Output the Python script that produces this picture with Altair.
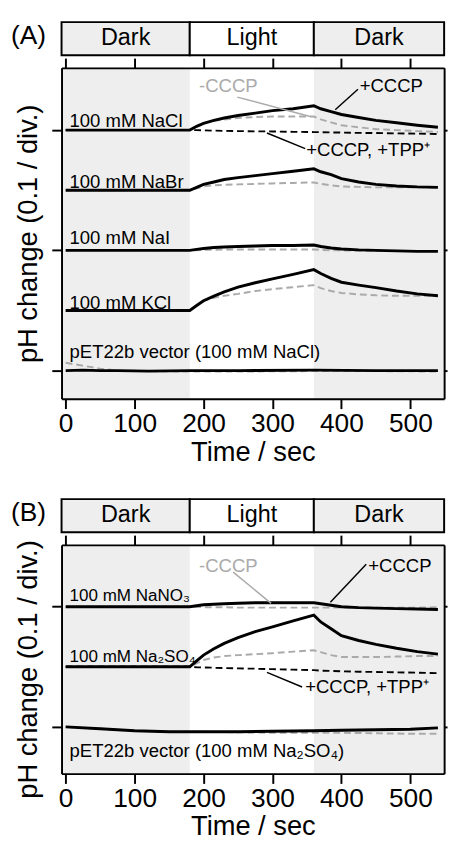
import altair as alt
import pandas as pd

FONT = "Liberation Sans"
GRAY = "#aaaaaa"
SHADE = "#eeeeee"

# ---------------- data (pH change in milli-pH units; 100 = 0.1 = one division) -----------
XDOM = [-6, 549]
T = [0, 180, 190, 200, 215, 230, 250, 275, 300, 330, 360, 370, 385, 400, 425, 450, 480, 510, 540]
TV_A = [0, 25, 50, 75, 120, 180, 250, 360, 450, 540]
TV_B = [0, 50, 100, 150, 200, 250, 300, 360, 400, 450, 500, 540]

# Panel A
a_nacl_solid = [0, 0, 3.2, 5.7, 8.1, 10.1, 12.2, 14.2, 16.2, 17.8, 20.3, 17.8, 15.4, 13.0, 10.5, 8.1, 6.1, 4.1, 2.4]
a_nacl_gray = [0, 0, 3.2, 5.7, 7.7, 8.9, 10.1, 10.9, 11.3, 11.3, 11.3, 8.9, 6.5, 4.1, 2.4, 0.8, 0, -0.8, -1.6]
a_nacl_tpp = [0, 0, 0, -0.2, -0.4, -0.6, -0.8, -1.0, -1.1, -1.4, -1.6, -1.7, -1.9, -2.0, -2.3, -2.4, -2.7, -2.9, -3.2]
a_nabr_solid = [0, 0, 2.4, 4.9, 6.9, 8.9, 10.5, 12.2, 13.8, 15.8, 17.8, 15.4, 13.0, 9.7, 6.9, 4.9, 3.6, 2.8, 2.4]
a_nabr_gray = [0, 0, 1.6, 3.2, 4.1, 4.5, 4.9, 5.3, 5.7, 6.1, 6.5, 5.3, 4.1, 3.2, 2.8, 2.4, 2.4, 2.4, 2.4]
a_nai_solid = [0, 0, 0.8, 1.6, 2.4, 2.8, 3.2, 3.6, 4.1, 4.1, 4.5, 3.2, 2.0, 1.2, 0.4, 0, -0.4, -0.8, -0.8]
a_nai_gray = [0, 0, 0, 0.4, 0.4, 0.8, 0.8, 0.8, 0.8, 0.8, 0.8, 0.4, 0, 0, -0.4, -0.4, -0.4, -0.4, -0.4]
a_kcl_solid = [0, 0, 4.1, 8.1, 12.0, 15.4, 19.4, 23.1, 26.3, 30.0, 34.0, 30.8, 26.7, 23.5, 21.1, 19.0, 16.2, 13.8, 12.2]
a_kcl_gray = [0, 0, 4.1, 8.1, 10.5, 12.2, 13.8, 16.2, 17.8, 19.4, 21.1, 18.6, 16.2, 14.6, 13.4, 12.6, 12.2, 12.2, 12.2]
a_vec_solid = [0, 0.4, 0, 0, -0.4, 0, 0, 0.4, 0, 0]
a_vec_gray = [6.5, 4.1, 1.6, 0, -0.4, -0.8, -0.8, -0.4, -0.4, -0.8]

# Panel B
b_nano3_solid = [0, 0, 0.8, 1.6, 2.0, 2.4, 2.8, 3.2, 3.2, 3.2, 3.2, 2.4, 1.2, 0, -0.8, -1.2, -1.6, -2.0, -2.4]
b_nano3_gray = [0, 0, 0, -0.4, -0.4, -0.4, -0.8, -0.8, -0.8, -0.8, -0.8, -0.8, -0.8, -0.8, -0.8, -0.8, -0.8, -0.8, -0.4]
b_na2so4_solid = [0, 0, 4.9, 9.7, 15.0, 19.5, 24.3, 29.2, 33.2, 38.2, 42.9, 37.3, 31.6, 25.9, 21.9, 18.6, 15.4, 12.6, 10.5]
b_na2so4_gray = [0, 0, 2.8, 5.7, 7.7, 8.9, 9.7, 10.5, 11.3, 12.6, 13.8, 12.2, 9.7, 8.1, 8.1, 8.1, 8.5, 8.9, 8.9]
b_na2so4_tpp = [0, 0, -0.4, -0.6, -0.8, -1.1, -1.3, -1.6, -2.0, -2.4, -2.8, -3.2, -3.5, -3.7, -4.1, -4.3, -4.6, -4.9, -5.3]
b_vec_solid = [0, -1.6, -3.2, -4.1, -4.1, -4.1, -3.6, -3.2, -2.8, -2.4, -2.0, -0.8]
b_vec_gray = [0, -1.6, -3.2, -4.1, -4.1, -4.5, -4.9, -4.9, -4.9, -5.3, -5.7, -5.7]

# trace offsets (stacked baselines)
A_OFFSETS = {"NaCl": 200, "NaBr": 150, "NaI": 100, "KCl": 50, "vec": 0}
B_OFFSETS = {"NaNO3": 100, "Na2SO4": 50, "vec": 0}

header_labels = ["Dark", "Light", "Dark"]
header_x0 = [XDOM[0], 180, 360]
header_x1 = [180, 360, XDOM[1]]
header_fill = [SHADE, "white", SHADE]

a_label_text = ["100 mM NaCl", "100 mM NaBr", "100 mM NaI", "100 mM KCl",
                "pET22b vector (100 mM NaCl)"]
a_label_y = [202.4, 152.2, 105.3, 51.0, 10.5]
a_label_fs = [19, 19, 19, 19, 19]
b_label_text = ["100 mM NaNO\u2083", "100 mM Na\u2082SO\u2084",
                "pET22b vector (100 mM Na\u2082SO\u2084)"]
b_label_y = [104.5, 54.3, -25.1]
b_label_fs = [17.5, 17.5, 19]
LABEL_T = 5.6

a_ann_text = ["-CCCP", "+CCCP", "+CCCP, +TPP\u207a"]
a_ann_t = [193.5, 426.5, 349]
a_ann_y = [236.4, 236.4, 183.0]
a_ann_col = [GRAY, "black", "black"]
a_lead = [(249, 227.5, 354.5, 211.3, GRAY), (391, 217, 424, 234, "black"),
          (292, 197.6, 347.5, 184.6, "black")]

b_ann_text = ["-CCCP", "+CCCP", "+CCCP, +TPP\u207a"]
b_ann_t = [193.5, 439, 347.5]
b_ann_y = [133.6, 133.6, 33.2]
b_ann_col = [GRAY, "black", "black"]
b_lead = [(243, 128.7, 298, 102.8, GRAY), (384, 103.6, 436, 135.2, "black"),
          (292, 45.3, 343, 33.2, "black")]

XTICKS = [0, 100, 200, 300, 400, 500]
W = 393


def traces(rows):
    recs = []
    for name, style, ts, vals, off in rows:
        for i, (t, v) in enumerate(zip(ts, vals)):
            recs.append({"trace": name + style, "style": style, "t": t, "y": off + v, "i": i})
    return pd.DataFrame(recs)


def panel(letter, H, ydom, yticks, trace_df, lab_text, lab_y, lab_fs, ann_text, ann_t, ann_y,
          ann_col, lead, ytitle_shift):
    xs = alt.Scale(domain=XDOM, nice=False, zero=False)
    ys = alt.Scale(domain=ydom, nice=False, zero=False)
    common = dict(grid=False, domainColor="black", domainWidth=2, tickColor="black",
                  tickWidth=2, zindex=1)

    bottom_ax = alt.Axis(orient="bottom", values=XTICKS, labelFontSize=27, labelColor="black",
                         labelPadding=3, tickSize=10, labelFlush=False,
                         titleFontSize=28, titleFontWeight="normal", titleColor="black",
                         titleY=41, titleBaseline="top", **common)
    left_ax = alt.Axis(orient="left", values=yticks, labels=False, tickSize=10,
                       titleFontSize=28, titleFontWeight="normal", titleColor="black",
                       titleX=-26, titleY=H / 2 + ytitle_shift, titleAngle=270,
                       titleBaseline="alphabetic", titleAlign="center", **common)
    top_ax = alt.Axis(orient="top", values=XTICKS, labels=False, tickSize=10, **common)
    right_ax = alt.Axis(orient="right", values=yticks, labels=False, tickSize=3, **common)

    shade_df = pd.DataFrame({"x0": [XDOM[0], 360], "x1": [180, XDOM[1]]})
    shade = alt.Chart(shade_df).mark_rect(color=SHADE).encode(
        x=alt.X("x0:Q", scale=xs, axis=None), x2="x1:Q",
        y=alt.value(0), y2=alt.value(H))

    hdr_df = pd.DataFrame({"x0": header_x0, "x1": header_x1, "fill": header_fill,
                           "lab": header_labels,
                           "mid": [(a + b) / 2 for a, b in zip(header_x0, header_x1)]})
    hdr = alt.Chart(hdr_df).mark_rect(stroke="black", strokeWidth=2).encode(
        x=alt.X("x0:Q", scale=xs, axis=None), x2="x1:Q",
        y=alt.value(-47), y2=alt.value(-13),
        fill=alt.Color("fill:N", scale=None))
    hdr_txt = alt.Chart(hdr_df).mark_text(fontSize=24, baseline="middle", color="black").encode(
        x=alt.X("mid:Q", scale=xs, axis=None), y=alt.value(-30), text="lab:N")

    let_df = pd.DataFrame({"lab": [letter]})
    let_txt = alt.Chart(let_df).mark_text(fontSize=27, align="left", baseline="middle",
                                          color="black").encode(
        x=alt.value(-52), y=alt.value(-33), text="lab:N")

    def lines(style, **kw):
        return alt.Chart(trace_df[trace_df["style"] == style]).mark_line(**kw).encode(
            x=alt.X("t:Q", scale=xs, axis=None),
            y=alt.Y("y:Q", scale=ys, axis=None),
            detail="trace:N", order="i:Q")

    gray = lines("gray", color=GRAY, strokeWidth=2, strokeDash=[7, 4])
    tpp = lines("tpp", color="black", strokeWidth=1.9, strokeDash=[7, 4])
    solid = alt.Chart(trace_df[trace_df["style"] == "solid"]).mark_line(
        color="black", strokeWidth=3).encode(
        x=alt.X("t:Q", scale=xs, axis=bottom_ax, title="Time / sec"),
        y=alt.Y("y:Q", scale=ys, axis=left_ax, title="pH change (0.1 / div.)"),
        detail="trace:N", order="i:Q")

    lead_df = pd.DataFrame(lead, columns=["t1", "y1", "t2", "y2", "col"])
    rules = alt.Chart(lead_df).mark_rule(strokeWidth=1.5).encode(
        x=alt.X("t1:Q", scale=xs, axis=None), y=alt.Y("y1:Q", scale=ys, axis=None),
        x2="t2:Q", y2="y2:Q", color=alt.Color("col:N", scale=None))

    ann_df = pd.DataFrame({"t": ann_t, "y": ann_y, "txt": ann_text, "col": ann_col})
    ann = alt.Chart(ann_df).mark_text(fontSize=19, align="left", baseline="middle").encode(
        x=alt.X("t:Q", scale=xs, axis=None), y=alt.Y("y:Q", scale=ys, axis=None),
        text="txt:N", color=alt.Color("col:N", scale=None))

    lab_df = pd.DataFrame({"t": [LABEL_T] * len(lab_text), "y": lab_y, "txt": lab_text,
                           "fs": lab_fs})
    labs = alt.Chart(lab_df).mark_text(align="left", baseline="alphabetic",
                                       color="black").encode(
        x=alt.X("t:Q", scale=xs, axis=top_ax, title=None),
        y=alt.Y("y:Q", scale=ys, axis=right_ax, title=None),
        size=alt.Size("fs:Q", scale=None),
        text="txt:N")

    return alt.layer(shade, hdr, hdr_txt, let_txt, gray, tpp, solid, rules, ann, labs).properties(
        width=W, height=H).resolve_axis(x="independent", y="independent")


a_df = traces([
    ("NaCl", "gray", T, a_nacl_gray, A_OFFSETS["NaCl"]),
    ("NaCl", "tpp", T, a_nacl_tpp, A_OFFSETS["NaCl"]),
    ("NaCl", "solid", T, a_nacl_solid, A_OFFSETS["NaCl"]),
    ("NaBr", "gray", T, a_nabr_gray, A_OFFSETS["NaBr"]),
    ("NaBr", "solid", T, a_nabr_solid, A_OFFSETS["NaBr"]),
    ("NaI", "gray", T, a_nai_gray, A_OFFSETS["NaI"]),
    ("NaI", "solid", T, a_nai_solid, A_OFFSETS["NaI"]),
    ("KCl", "gray", T, a_kcl_gray, A_OFFSETS["KCl"]),
    ("KCl", "solid", T, a_kcl_solid, A_OFFSETS["KCl"]),
    ("vec", "gray", TV_A, a_vec_gray, A_OFFSETS["vec"]),
    ("vec", "solid", TV_A, a_vec_solid, A_OFFSETS["vec"]),
])
b_df = traces([
    ("NaNO3", "gray", T, b_nano3_gray, B_OFFSETS["NaNO3"]),
    ("NaNO3", "solid", T, b_nano3_solid, B_OFFSETS["NaNO3"]),
    ("Na2SO4", "gray", T, b_na2so4_gray, B_OFFSETS["Na2SO4"]),
    ("Na2SO4", "tpp", T, b_na2so4_tpp, B_OFFSETS["Na2SO4"]),
    ("Na2SO4", "solid", T, b_na2so4_solid, B_OFFSETS["Na2SO4"]),
    ("vec", "gray", TV_B, b_vec_gray, B_OFFSETS["vec"]),
    ("vec", "solid", TV_B, b_vec_solid, B_OFFSETS["vec"]),
])

pA = panel("(A)", 340, [-23.5, 251.8], [0, 100, 200], a_df, a_label_text, a_label_y, a_label_fs,
           a_ann_text, a_ann_t, a_ann_y, a_ann_col, a_lead, 0)
pB = panel("(B)", 235, [-38.9, 151.4], [0, 100], b_df, b_label_text, b_label_y, b_label_fs,
           b_ann_text, b_ann_t, b_ann_y, b_ann_col, b_lead, 10)

chart = alt.vconcat(pA, pB, spacing=31).properties(
    padding={"left": 2, "top": 1, "right": 0, "bottom": 0}
).configure_view(stroke="transparent").configure(font=FONT)

chart.save("out.html", embed_options={"renderer": "svg", "actions": False})
